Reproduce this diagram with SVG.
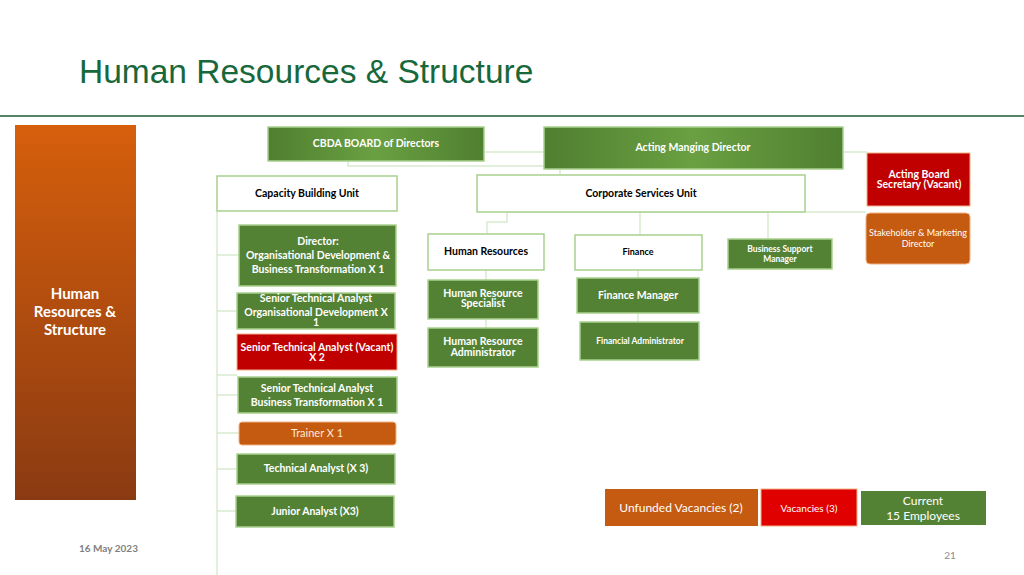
<svg xmlns="http://www.w3.org/2000/svg" width="1024" height="575" viewBox="0 0 1024 575">
<defs>
<linearGradient id="og" x1="0" y1="0" x2="0" y2="1"><stop offset="0" stop-color="#d65f0c"/><stop offset="1" stop-color="#8a3a12"/></linearGradient>
<linearGradient id="gg" x1="0" y1="0" x2="1" y2="0"><stop offset="0" stop-color="#4f7f30"/><stop offset="0.5" stop-color="#6aa042"/><stop offset="1" stop-color="#4f7f30"/></linearGradient>
<style>
text{font-family:Lato,"Open Sans","Liberation Sans",sans-serif;text-anchor:middle}
.g{fill:#548235;stroke:#a9d18e;stroke-width:1.5}
.gg{fill:url(#gg);stroke:#a9d18e;stroke-width:1.5}
.w{fill:#fff;stroke:#a9d18e;stroke-width:1.5}
.r{fill:#c00000;stroke:#f4b183;stroke-width:1}
.o{fill:#c55a11;stroke:#f4b183;stroke-width:1}
.tw{fill:#fff;font-weight:bold;font-size:10.5px}
.tb{fill:#000;font-weight:bold;font-size:10.5px}
.c{fill:none;stroke:#d9ead0;stroke-width:1.5}
</style>
</defs>
<rect width="1024" height="575" fill="#fff"/>
<text x="79" y="83" style="text-anchor:start;font-family:'Liberation Sans',sans-serif;font-size:33.5px;fill:#17683b">Human Resources &amp; Structure</text>
<line x1="0" y1="116" x2="1024" y2="116" stroke="#1e5a32" stroke-width="1.5"/>
<g id="connectors" class="c">
<path d="M217 211V575"/>
<path d="M217 255H239M217 311H237M217 375H237M217 395H238M217 433H239M217 469H237M217 511H236"/>
<path d="M348 161V166H544M484 152H544"/>
<path d="M843 152H867M805 212H866M560 169V175"/>
<path d="M507 212V222H487V234M507 212H768V239M640 212V235"/>
<path d="M486 270V280M486 319V328M638 270V278M638 313V322"/>
</g>
<g id="side"><rect x="15" y="125" width="121" height="375" fill="url(#og)"/>
<text x="75" y="299" class="tw" style="font-size:15px">Human</text>
<text x="75" y="317" class="tw" style="font-size:15px">Resources &amp;</text>
<text x="75" y="335" class="tw" style="font-size:15px">Structure</text></g>
<g id="board"><rect x="268" y="127" width="216" height="34" class="gg"/><text x="376" y="147" class="tw">CBDA BOARD of Directors</text></g>
<g id="md"><rect x="544" y="127" width="299" height="42" class="gg"/><text x="693" y="151" class="tw">Acting Manging Director</text></g>
<g id="sec"><rect x="867" y="153" width="103" height="53" class="r"/><text x="919" y="178" class="tw">Acting Board</text><text x="919" y="188" class="tw">Secretary (Vacant)</text></g>
<g id="stake"><rect x="866" y="213" width="104" height="51" rx="4" class="o"/><text x="918" y="236" style="fill:#fff;font-size:9px">Stakeholder &amp; Marketing</text><text x="918" y="247" style="fill:#fff;font-size:9px">Director</text></g>
<g id="cbu"><rect x="217" y="176" width="180" height="35" class="w"/><text x="307" y="197" class="tb">Capacity Building Unit</text></g>
<g id="csu"><rect x="477" y="175" width="328" height="37" class="w"/><text x="641" y="197" class="tb">Corporate  Services Unit</text></g>
<g id="dir"><rect x="239" y="225" width="157" height="61" class="g"/><text x="318" y="245" class="tw">Director:</text><text x="318" y="259" class="tw">Organisational Development &amp;</text><text x="318" y="273" class="tw">Business Transformation X 1</text></g>
<g id="sta1"><rect x="237" y="293" width="158" height="36" class="g"/><text x="316" y="302" class="tw">Senior Technical Analyst</text><text x="316" y="316" class="tw">Organisational Development  X</text><text x="316" y="326" class="tw">1</text></g>
<g id="sta2"><rect x="237" y="334" width="160" height="36" class="r"/><text x="317" y="351" class="tw">Senior Technical Analyst (Vacant)</text><text x="317" y="361" class="tw">X 2</text></g>
<g id="sta3"><rect x="238" y="377" width="159" height="36" class="g"/><text x="317" y="392" class="tw">Senior Technical Analyst</text><text x="317" y="406" class="tw">Business Transformation X 1</text></g>
<g id="trainer"><rect x="239" y="422" width="157" height="23" rx="3" class="o"/><text x="317" y="437" style="fill:#fde9d9;font-size:11px">Trainer X 1</text></g>
<g id="ta"><rect x="237" y="454" width="158" height="30" class="g"/><text x="316" y="472" class="tw">Technical Analyst (X 3)</text></g>
<g id="ja"><rect x="236" y="496" width="158" height="31" class="g"/><text x="315" y="515" class="tw">Junior Analyst (X3)</text></g>
<g id="hr"><rect x="428" y="234" width="116" height="36" class="w"/><text x="486" y="255" class="tb">Human Resources</text></g>
<g id="hrs"><rect x="428" y="280" width="110" height="39" class="g"/><text x="483" y="297" class="tw">Human Resource</text><text x="483" y="307" class="tw">Specialist</text></g>
<g id="hra"><rect x="428" y="328" width="110" height="39" class="g"/><text x="483" y="345" class="tw">Human Resource</text><text x="483" y="356" class="tw">Administrator</text></g>
<g id="fin"><rect x="575" y="235" width="127" height="35" class="w"/><text x="638" y="255" class="tb" style="font-size:9px">Finance</text></g>
<g id="fm"><rect x="577" y="278" width="122" height="35" class="g"/><text x="638" y="299" class="tw">Finance Manager</text></g>
<g id="fa"><rect x="580" y="322" width="119" height="38" class="g"/><text x="640" y="344" class="tw" style="font-size:8.5px">Financial Administrator</text></g>
<g id="bsm"><rect x="728" y="239" width="104" height="30" class="g"/><text x="780" y="252" class="tw" style="font-size:8.5px">Business Support</text><text x="780" y="262" class="tw" style="font-size:8.5px">Manager</text></g>
<g id="unf"><rect x="605" y="489" width="153" height="37" fill="#c55a11"/><text x="681" y="512" style="fill:#fff;font-size:12px">Unfunded  Vacancies (2)</text></g>
<g id="vac"><rect x="761" y="489" width="96" height="37" fill="#e00000" stroke="#f4b183"/><text x="809" y="512" style="fill:#fff;font-size:10px">Vacancies (3)</text></g>
<g id="cur"><rect x="861" y="491" width="125" height="34" fill="#548235"/><text x="923" y="505" style="fill:#fff;font-size:12px">Current</text><text x="923" y="520" style="fill:#fff;font-size:12px">15 Employees</text></g>
<text x="79" y="552" style="text-anchor:start;fill:#7f7f7f;font-size:10px;font-weight:bold">16 May 2023</text>
<text x="950" y="559" style="fill:#8c8c8c;font-size:10px">21</text>
</svg>
